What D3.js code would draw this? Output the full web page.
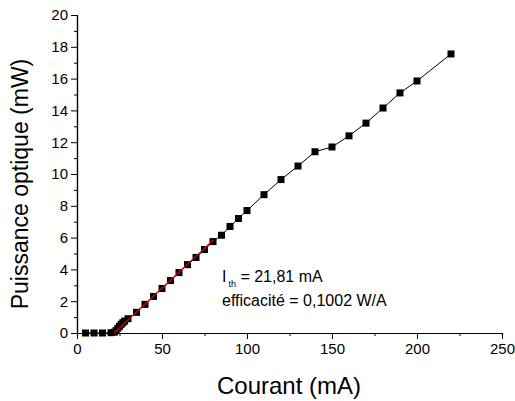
<!DOCTYPE html>
<html>
<head>
<meta charset="utf-8">
<script src="https://cdn.jsdelivr.net/npm/d3@7"></script>
<style>
  body { margin: 0; background: #fff; }
  text { font-family: "Liberation Sans", Arial, sans-serif; }
</style>
</head>
<body>
<script>
// current (mA) and optical power (mW)
const courant = [5, 10, 15, 20, 22, 23, 24, 25, 26, 27, 28, 30, 35, 40, 45, 50, 55, 60, 65, 70,
  75, 80, 85, 90, 95, 100, 110, 120, 130, 140, 150, 160, 170, 180, 190, 200, 220];
const puissance = [0, 0, 0, 0.02, 0.05, 0.15, 0.3, 0.42, 0.55, 0.65, 0.75, 0.9, 1.3, 1.8, 2.3, 2.8,
  3.3, 3.8, 4.3, 4.75, 5.25, 5.75, 6.15, 6.7, 7.2, 7.7, 8.7, 9.65, 10.5, 11.4, 11.7, 12.4, 13.2,
  14.15, 15.1, 15.85, 17.55];
const xTicks = [0, 50, 100, 150, 200, 250];
const yTicks = [0, 2, 4, 6, 8, 10, 12, 14, 16, 18, 20];

// linear fit
const ith = 21.81;
const eff = 0.1002;
const fitRange = [ith, 80];

var w = 515, h = 401;
var padLeft = 77, padRight = 502, padTop = 15, padBottom = 333;

const dataset = courant.map((c, i) => [c, puissance[i]]);

var xScale = d3.scaleLinear().domain([0, 250]).range([padLeft, padRight]);
var yScale = d3.scaleLinear().domain([0, 20]).range([padBottom, padTop]);

var svg = d3.select("body").append("svg").attr("width", w).attr("height", h);

// minor ticks
const xAxisMinor = d3.axisBottom(xScale).tickValues(d3.range(25, 250, 50)).tickSize(3).tickFormat("");
const yAxisMinor = d3.axisLeft(yScale).tickValues(d3.range(1, 20, 2)).tickSize(3).tickFormat("");
svg.append("g").attr("transform", "translate(0," + padBottom + ")").call(xAxisMinor);
svg.append("g").attr("transform", "translate(" + padLeft + ",0)").call(yAxisMinor);

const xAxis = d3.axisBottom(xScale).tickValues(xTicks).tickSize(6).tickPadding(4).tickSizeOuter(0);
const yAxis = d3.axisLeft(yScale).tickValues(yTicks).tickSize(6).tickPadding(3).tickSizeOuter(0);

svg.append("g")
  .attr("class", "x-axis")
  .attr("transform", "translate(0," + padBottom + ")")
  .call(xAxis);

svg.append("g")
  .attr("class", "y-axis")
  .attr("transform", "translate(" + padLeft + ",0)")
  .call(yAxis);

svg.selectAll(".domain").attr("stroke", "#000").attr("stroke-width", 1.2);
svg.selectAll(".tick line").attr("stroke", "#000");
svg.selectAll(".tick text").attr("font-size", 15).attr("fill", "#000")
  .attr("font-family", "Liberation Sans, Arial, sans-serif");

// data line
const line = d3.line().x(d => xScale(d[0])).y(d => yScale(d[1]));
svg.append("path")
  .datum(dataset)
  .attr("fill", "none")
  .attr("stroke", "#000")
  .attr("stroke-width", 1)
  .attr("d", line);

// points
svg.selectAll("rect.pt")
  .data(dataset)
  .enter()
  .append("rect")
  .attr("class", "pt")
  .attr("x", d => xScale(d[0]) - 3.5)
  .attr("y", d => yScale(d[1]) - 3.5)
  .attr("width", 7)
  .attr("height", 7)
  .attr("fill", "#000");

// fit line
svg.append("path")
  .datum(fitRange.map(c => [c, eff * (c - ith)]))
  .attr("fill", "none")
  .attr("stroke", "#e00000")
  .attr("stroke-width", 1.2)
  .attr("d", line);

// axis titles
svg.append("text")
  .attr("x", 289)
  .attr("y", 394)
  .attr("text-anchor", "middle")
  .attr("font-size", 24)
  .text("Courant (mA)");

svg.append("text")
  .attr("transform", "translate(28,184) rotate(-90)")
  .attr("text-anchor", "middle")
  .attr("font-size", 23)
  .text("Puissance optique (mW)");

// annotation
const ann = svg.append("text").attr("x", 222).attr("y", 282).attr("font-size", 16);
ann.append("tspan").text("I");
ann.append("tspan").attr("font-size", 9).attr("dx", 2).attr("dy", 5).text("th");
ann.append("tspan").attr("dy", -5).text(" = 21,81 mA");

svg.append("text")
  .attr("x", 222)
  .attr("y", 306)
  .attr("font-size", 16)
  .text("efficacité = 0,1002 W/A");
</script>
</body>
</html>
